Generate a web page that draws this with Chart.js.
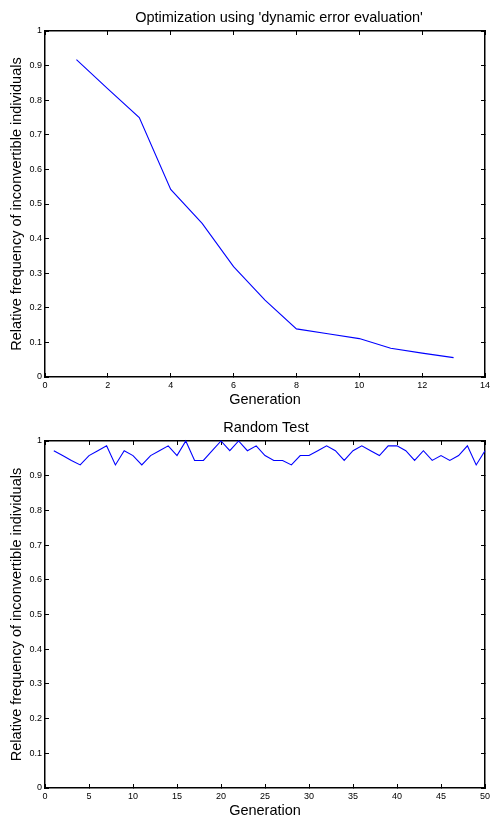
<!DOCTYPE html>
<html>
<head>
<meta charset="utf-8">
<script src="https://cdn.jsdelivr.net/npm/chart.js@4"></script>
<style>
html, body { margin: 0; padding: 0; background: #fff; overflow: hidden; width: 490px; height: 817px; }
canvas { position: absolute; left: 0; }
#c1 { top: 0; }
#c2 { top: 410px; }
</style>
</head>
<body>
<canvas id="c1" width="490" height="409"></canvas>
<canvas id="c2" width="490" height="410"></canvas>
<script>
// ---- data ----
const optTitle = "Optimization using 'dynamic error evaluation'";
const randTitle = "Random Test";
const xAxisTitle = "Generation";
const yAxisTitle = "Relative frequency of inconvertible individuals";

const optGenerations = [1, 2, 3, 4, 5, 6, 7, 8, 9, 10, 11, 12, 13];
const optFrequency = [0.917, 0.833, 0.750, 0.542, 0.444, 0.319, 0.222, 0.139, 0.125, 0.111, 0.083, 0.069, 0.056];

const randGenerations = [1, 2, 3, 4, 5, 6, 7, 8, 9, 10, 11, 12, 13, 14, 15, 16, 17, 18, 19, 20,
  21, 22, 23, 24, 25, 26, 27, 28, 29, 30, 31, 32, 33, 34, 35, 36, 37, 38, 39, 40,
  41, 42, 43, 44, 45, 46, 47, 48, 49, 50];
const randFrequency = [0.972, 0.958, 0.944, 0.931, 0.958, 0.972, 0.986, 0.931, 0.972, 0.958,
  0.931, 0.958, 0.972, 0.986, 0.958, 1.000, 0.944, 0.944, 0.972, 1.000,
  0.972, 1.000, 0.972, 0.986, 0.958, 0.944, 0.944, 0.931, 0.958, 0.958,
  0.972, 0.986, 0.972, 0.944, 0.972, 0.986, 0.972, 0.958, 0.986, 0.986,
  0.972, 0.944, 0.972, 0.944, 0.958, 0.944, 0.958, 0.986, 0.931, 0.972];

const optXTicks = [0, 2, 4, 6, 8, 10, 12, 14];
const randXTicks = [0, 5, 10, 15, 20, 25, 30, 35, 40, 45, 50];
const freqTicks = [0, 0.1, 0.2, 0.3, 0.4, 0.5, 0.6, 0.7, 0.8, 0.9, 1];

// ---- drawing ----
const FAMILY = '"Liberation Sans", Arial, Helvetica, sans-serif';

const matlabTitle = {
  id: 'matlabTitle',
  afterDraw(chart, args, opts) {
    const { ctx, chartArea } = chart;
    ctx.save();
    ctx.font = '14.5px ' + FAMILY;
    ctx.fillStyle = '#000';
    ctx.textAlign = 'center';
    ctx.textBaseline = 'alphabetic';
    ctx.fillText(opts.text, (chartArea.left + chartArea.right) / 2 + opts.dx, opts.baseline);
    ctx.restore();
  }
};

function makeAxis(position, min, max, tickValues, showLabels, size, title) {
  const vertical = position === 'left' || position === 'right';
  return {
    type: 'linear',
    position: position,
    min: min,
    max: max,
    afterBuildTicks: s => { s.ticks = tickValues.map(v => ({ value: v })); },
    afterFit: s => {
      if (vertical) s.width = size; else s.height = size;
      s.paddingLeft = 0; s.paddingRight = 0; s.paddingTop = 0; s.paddingBottom = 0;
    },
    grid: { drawOnChartArea: false, drawTicks: true, tickLength: -4, color: '#000', lineWidth: 1 },
    border: { display: true, color: '#000', width: 1.5 },
    ticks: {
      display: showLabels, padding: 7, color: '#000', autoSkip: false, maxRotation: 0,
      font: { family: FAMILY, size: 9 },
      callback: v => String(v)
    },
    title: title ? {
      display: true, text: title, color: '#000',
      font: { family: FAMILY, size: 14.5 },
      padding: vertical ? { top: 8, bottom: 0 } : { top: 0, bottom: 0 }
    } : { display: false }
  };
}

function makeChart(id, xs, ys, xMax, xTicks, titleText, titleDx, titleBaseline, bottomSize) {
  return new Chart(document.getElementById(id), {
    type: 'line',
    data: {
      datasets: [{
        data: xs.map((g, i) => ({ x: g, y: ys[i] })),
        borderColor: '#0000ff',
        borderWidth: 1.1,
        pointRadius: 0,
        tension: 0,
        fill: false,
        clip: false
      }]
    },
    options: {
      responsive: false,
      animation: false,
      devicePixelRatio: 1,
      layout: { padding: 0 },
      plugins: {
        legend: { display: false },
        tooltip: { enabled: false },
        matlabTitle: { text: titleText, dx: titleDx, baseline: titleBaseline }
      },
      scales: {
        x: makeAxis('bottom', 0, xMax, xTicks, true, bottomSize, xAxisTitle),
        x2: makeAxis('top', 0, xMax, xTicks, false, 31, null),
        y: makeAxis('left', 0, 1, freqTicks, true, 45, yAxisTitle),
        y2: makeAxis('right', 0, 1, freqTicks, false, 5, null)
      }
    },
    plugins: [matlabTitle]
  });
}

makeChart('c1', optGenerations, optFrequency, 14, optXTicks, optTitle, 14, 22, 32);
makeChart('c2', randGenerations, randFrequency, 50, randXTicks, randTitle, 1, 21.5, 32);
</script>
</body>
</html>
